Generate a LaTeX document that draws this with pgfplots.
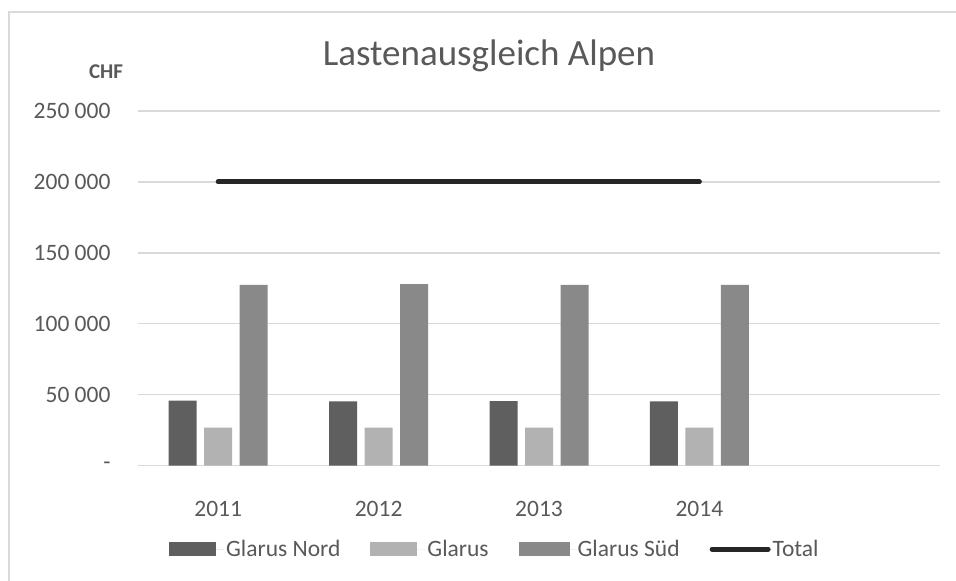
\documentclass[border=0pt]{standalone}
\usepackage{fontspec}
\setmainfont{Carlito}
\usepackage{pgfplots}
\pgfplotsset{compat=1.18}
\definecolor{txt}{HTML}{595959}
\definecolor{gridc}{HTML}{D9D9D9}
\definecolor{nord}{HTML}{5F5F5F}
\definecolor{glarus}{HTML}{B2B2B2}
\definecolor{sued}{HTML}{898989}
\definecolor{total}{HTML}{262626}
\begin{document}
\begin{tikzpicture}[x=1pt,y=1pt]
\useasboundingbox (0,0) rectangle (956,581);
\fill[white] (0,0) rectangle (956,581);
\draw[gridc, line width=2pt] (9,0) -- (9,568.5) -- (956,568.5);
\node[txt, font=\fontsize{37}{42}\selectfont] at (489,525) {Lastenausgleich Alpen};
\node[txt, font=\bfseries\fontsize{21}{24}\selectfont] at (106,509) {CHF};
\begin{axis}[
	at={(138pt,115.3pt)}, anchor=south west,
	scale only axis, width=802pt, height=354.7pt,
	xmin=-0.5, xmax=4.5, ymin=0, ymax=250000,
	axis line style={draw=none}, major tick length=0pt,
	ymajorgrids, grid style={gridc, line width=1.3pt},
	scaled y ticks=false,
	xtick={0,1,2,3}, xticklabels={2011,2012,2013,2014},
	ytick={0,50000,100000,150000,200000,250000},
	yticklabels={-,50 000,100 000,150 000,200 000,250 000},
	ticklabel style={font=\fontsize{23.5}{26}\selectfont, text=txt},
	yticklabel style={xshift=-24pt},
	xticklabel style={yshift=-32pt},
	clip=false,
	legend style={at={(0.445,-0.235)}, anchor=center, draw=none, fill=none,
		legend columns=4, font=\fontsize{23.5}{26}\selectfont, text=txt,
		/tikz/every even column/.append style={column sep=28pt}},
	legend cell align=left,
]
\addplot[ybar, bar width=28pt, bar shift=-35.5pt, fill=nord, draw=none,
	legend image code/.code={\fill[nord] (0pt,-7pt) rectangle (47pt,7pt); \path (0pt,0pt) -- (55pt,0pt);}]
	coordinates {(0,45800) (1,45300) (2,45600) (3,45300)};
\addlegendentry{Glarus Nord}
\addplot[ybar, bar width=28pt, bar shift=0pt, fill=glarus, draw=none,
	legend image code/.code={\fill[glarus] (0pt,-7pt) rectangle (47pt,7pt); \path (0pt,0pt) -- (55pt,0pt);}]
	coordinates {(0,26800) (1,26800) (2,26800) (3,26800)};
\addlegendentry{Glarus}
\addplot[ybar, bar width=28pt, bar shift=35.5pt, fill=sued, draw=none,
	legend image code/.code={\fill[sued] (0pt,-7pt) rectangle (51pt,7pt); \path (0pt,0pt) -- (57pt,0pt);}]
	coordinates {(0,127400) (1,128000) (2,127500) (3,127400)};
\addlegendentry{Glarus Süd}
\addplot[sharp plot, total, line width=5pt, line cap=round, mark=none,
	legend image code/.code={\draw[total, line width=5pt, line cap=round] (0pt,0pt) -- (56pt,0pt);}]
	coordinates {(0,200000) (1,200000) (2,200000) (3,200000)};
\addlegendentry{Total}
\end{axis}
\end{tikzpicture}
\end{document}
